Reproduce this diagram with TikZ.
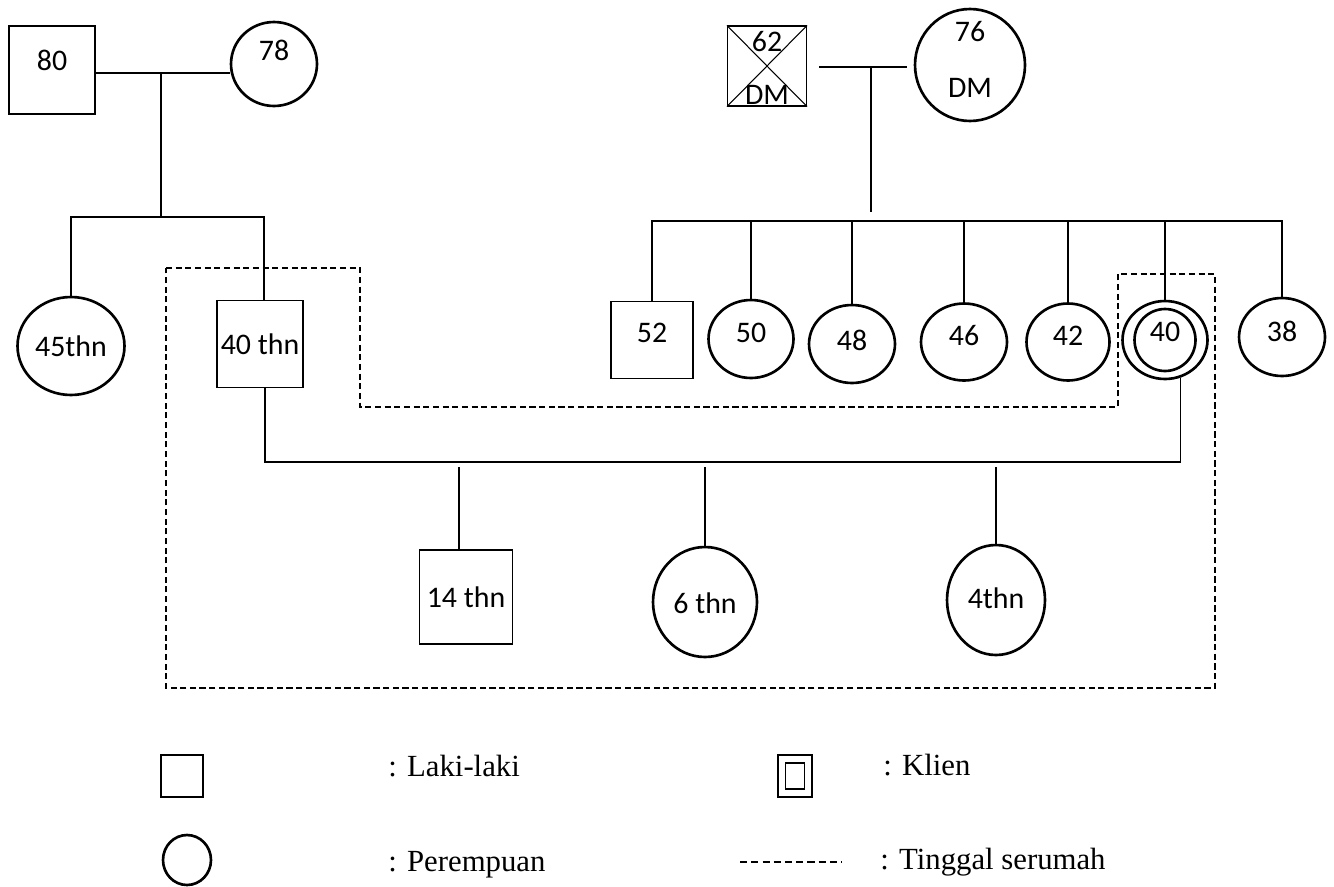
\documentclass[tikz,border=0pt]{standalone}
\usepackage{fontspec}
\setmainfont{Liberation Serif}
\newfontfamily\calibri{Carlito}
\usetikzlibrary{shapes.geometric}

\tikzset{
  male/.style={draw, rectangle, line width=0.7pt, inner sep=0pt},
  female/.style={draw, ellipse, line width=1.5pt, inner sep=0pt},
  age/.style 2 args={label={[yshift=#2]center:#1}},
  every label/.style={font=\calibri\fontsize{17}{20}\selectfont, inner sep=0pt},
  link/.style={line width=0.7pt},
  serumah/.style={line width=1.1pt, dash pattern=on 3.5pt off 2pt},
  legend/.style={font=\fontsize{17.5}{21}\selectfont, anchor=west, inner sep=0pt}
}

\begin{document}
\begin{tikzpicture}[x=0.02cm, y=-0.02cm]
\useasboundingbox (0,0) rectangle (1334,886);

% kakek nenek dari pihak suami
\node[male, minimum width=1.72cm, minimum height=1.76cm, age={80}{0.2cm}] (g80) at (52,70) {};
\node[female, minimum width=1.72cm, minimum height=1.68cm, age={78}{0.28cm}] (g78) at (274,64) {};
% kakek nenek dari pihak klien
\node[male, minimum width=1.58cm, minimum height=1.6cm, age={62}{0.48cm}, age={DM}{-0.58cm}] (g62) at (767,66) {};
\node[female, minimum width=2.2cm, minimum height=2.24cm, age={76}{0.66cm}, age={DM}{-0.46cm}] (g76) at (970,65) {};
\draw[line width=0.6pt] (g62.north west) -- (g62.south east);
\draw[line width=0.6pt] (g62.north east) -- (g62.south west);

% generasi kedua
\node[female, minimum width=2.14cm, minimum height=1.96cm, age={45thn}{0cm}] (c45) at (71,346) {};
\node[male, minimum width=1.72cm, minimum height=1.74cm, age={40 thn}{0cm}] (c40) at (260,344) {};
\node[male, minimum width=1.64cm, minimum height=1.54cm, age={52}{0.14cm}] (s52) at (652,340) {};
\node[female, minimum width=1.7cm, minimum height=1.56cm, age={50}{0.12cm}] (d50) at (751,339) {};
\node[female, minimum width=1.72cm, minimum height=1.56cm, age={48}{0.08cm}] (d48) at (852,344) {};
\node[female, minimum width=1.72cm, minimum height=1.54cm, age={46}{0.12cm}] (d46) at (964,342) {};
\node[female, minimum width=1.66cm, minimum height=1.54cm, age={42}{0.12cm}] (d42) at (1068,342) {};
\node[female, minimum width=1.7cm, minimum height=1.56cm, age={40}{0.16cm}] (d40) at (1165,340) {};
\draw[line width=1.5pt] (d40.center) ellipse (0.61cm and 0.62cm);
\node[female, minimum width=1.72cm, minimum height=1.56cm, age={38}{0.12cm}] (d38) at (1282,337) {};

% anak
\node[male, minimum width=1.86cm, minimum height=1.88cm, age={14 thn}{0cm}] (s14) at (466,597) {};
\node[female, minimum width=2.08cm, minimum height=2.2cm, age={6 thn}{-0.02cm}] (d6) at (705,602) {};
\node[female, minimum width=1.96cm, minimum height=2.2cm, age={4thn}{0.04cm}] (d4) at (996,600) {};

% garis keturunan
\coordinate (m1) at (161,73);
\coordinate (b1) at (161,217);
\draw[link] (g80.east |- m1) -- (g78.west |- m1);
\draw[link] (m1) -- (b1);
\draw[link] (c45.north) |- (b1) -| ([xshift=0.08cm]c40.north);

\coordinate (m2) at (871,67);
\coordinate (b2) at (871,221);
\draw[link, shorten <=0.24cm, shorten >=0.14cm] (g62.east |- m2) -- (g76.west |- m2);
\draw[link] (m2) -- ([yshift=0.18cm]b2);
\draw[link] (s52.north) |- (b2) -| (d38.north);
\foreach \n in {d50,d48,d46,d42,d40}
  \draw[link] (\n.north) -- (\n.north |- b2);

\coordinate (b3) at (720,462);
\draw[link] ([xshift=0.1cm]c40.south) |- (b3) -| (d40.-68);
\draw[link] ([xshift=-0.14cm]s14.north) -- ([xshift=-0.14cm, yshift=-0.1cm]s14.north |- b3);
\foreach \n in {d6,d4}
  \draw[link] (\n.north) -- ([yshift=-0.1cm]\n.north |- b3);

% tinggal serumah
\draw[serumah] (166,268) -- (360,268) -- (360,407) -- (1118,407) -- (1118,274)
  -- (1215,274) -- (1215,688) -- (166,688) -- cycle;

% keterangan
\node[male, minimum size=0.84cm] (lgm) at (182,776) {};
\node[legend] (lgmt) at (388,766) {: Laki-laki};
\node[female, minimum width=0.96cm, minimum height=1cm] (lgf) at (187,860) {};
\node[legend] (lgft) at (388,865) {: Perempuan};
\node[male, minimum width=0.68cm, minimum height=0.84cm] (lgk) at (795,776) {};
\draw[line width=0.6pt] ([shift={(-0.19cm,-0.26cm)}]lgk.center) rectangle ([shift={(0.19cm,0.26cm)}]lgk.center);
\node[legend] (lgkt) at (883,765) {: Klien};
\coordinate (lgs) at (740,862);
\draw[line width=0.6pt, dash pattern=on 4pt off 2.4pt] (lgs) -- ++(102,0);
\node[legend] (lgst) at (880,862) {: Tinggal serumah};
\end{tikzpicture}
\end{document}
